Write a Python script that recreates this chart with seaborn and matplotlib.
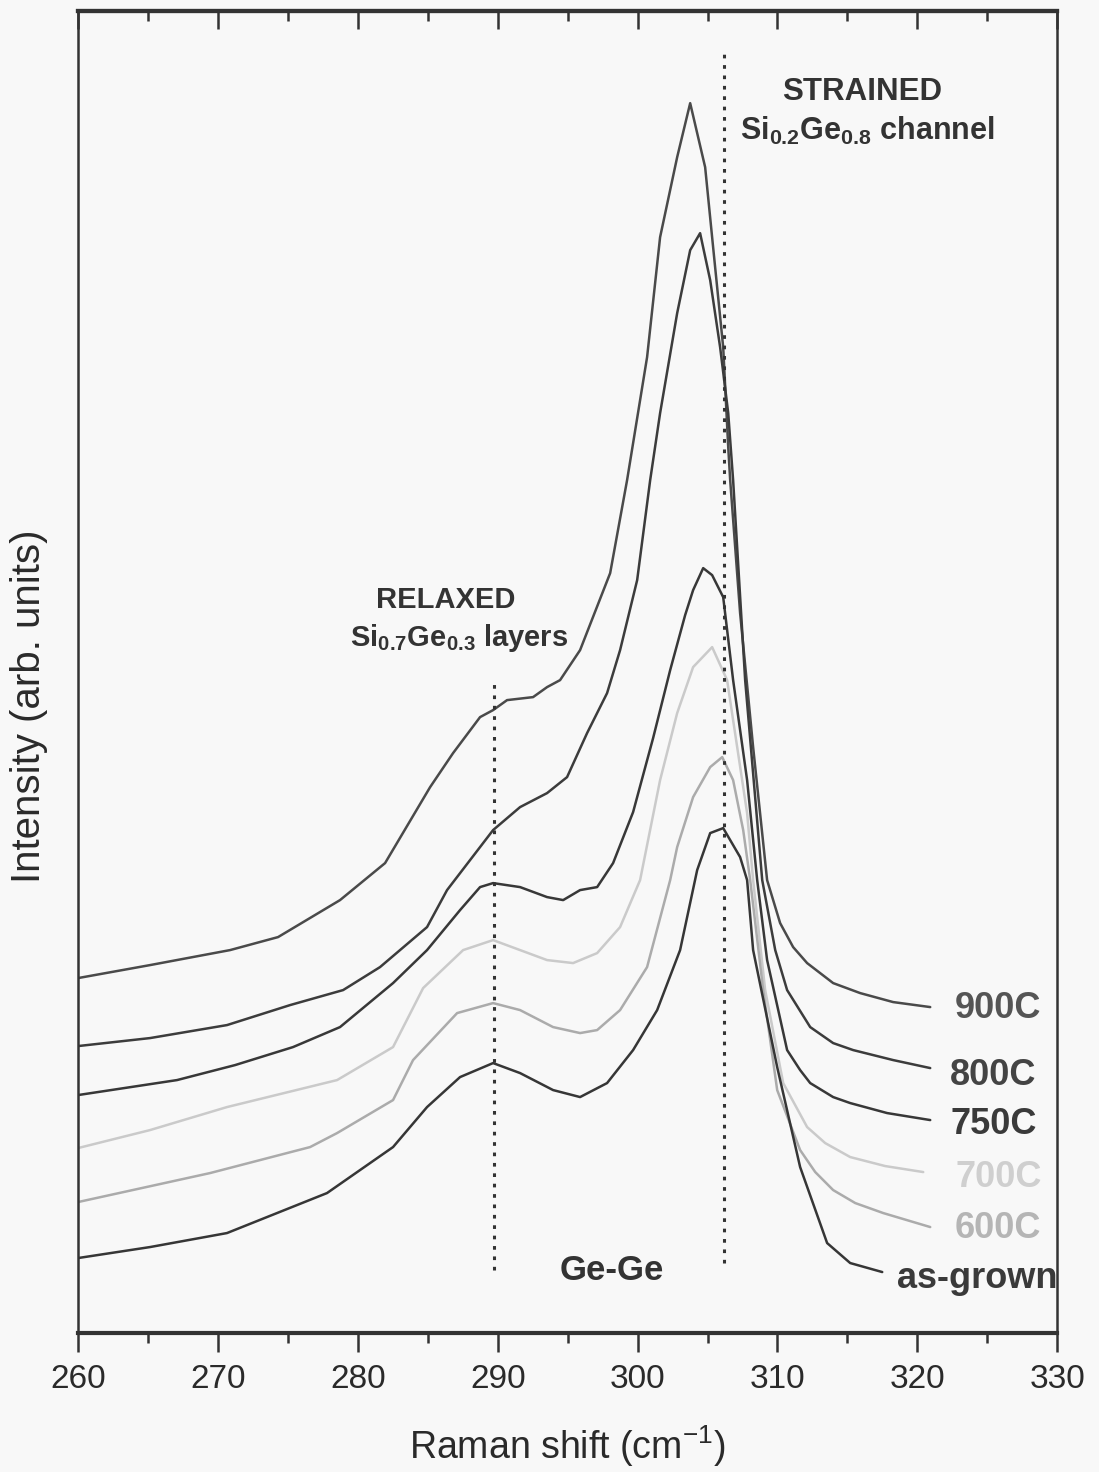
import numpy as np
import pandas as pd
import matplotlib
matplotlib.use("Agg")
import matplotlib.pyplot as plt
from matplotlib.ticker import MultipleLocator, NullLocator
import seaborn as sns

# Raman spectra (shift in cm^-1, intensity in arbitrary units, curves offset vertically)
shift_900 = [260.0, 265.15, 270.87, 274.30, 278.73, 281.95, 285.17, 286.81, 288.74, 289.67,
             290.67, 292.53, 293.53, 294.46, 295.89, 298.04, 299.25, 300.68, 301.61, 302.83,
             303.76, 304.83, 305.40, 306.12, 306.48, 306.62, 307.33, 308.26, 309.26, 310.19,
             311.12, 312.12, 313.98, 315.91, 318.27, 320.92]
int_900 = [35.5, 36.8, 38.3, 39.6, 43.3, 47.0, 54.6, 58.0, 61.6, 62.3,
           63.3, 63.6, 64.6, 65.3, 68.3, 76.0, 85.3, 97.6, 109.6, 117.6,
           123.0, 116.6, 108.6, 98.6, 88.6, 85.3, 72.0, 58.6, 45.3, 41.0,
           38.6, 37.0, 35.0, 34.0, 33.1, 32.6]

shift_800 = [260.0, 265.15, 270.65, 275.16, 278.95, 281.59, 284.95, 286.38, 289.67, 291.60,
             293.53, 294.96, 296.39, 297.82, 298.75, 299.97, 300.90, 301.61, 302.83, 303.76,
             304.47, 305.19, 305.90, 306.48, 306.83, 307.69, 308.91, 309.84, 310.69, 312.34,
             313.98, 315.41, 318.27, 320.92]
int_800 = [28.7, 29.5, 30.8, 32.8, 34.3, 36.6, 40.6, 44.3, 50.3, 52.6,
           54.0, 55.6, 60.0, 64.0, 68.3, 75.3, 85.3, 92.0, 102.0, 108.3,
           110.0, 105.3, 98.6, 92.0, 85.3, 65.3, 45.3, 38.3, 34.3, 30.6,
           29.0, 28.3, 27.3, 26.5]

shift_750 = [260.0, 267.08, 271.23, 275.37, 278.73, 282.52, 284.95, 287.31, 288.74, 289.67,
             291.60, 293.53, 294.68, 295.89, 297.11, 298.25, 299.68, 301.11, 302.33, 303.40,
             303.97, 304.69, 305.33, 306.12, 306.83, 307.83, 308.55, 309.26, 310.69, 311.62,
             312.34, 313.98, 315.20, 317.84, 320.92]
int_750 = [23.8, 25.3, 26.8, 28.6, 30.6, 35.0, 38.3, 42.3, 44.6, 45.0,
           44.6, 43.6, 43.3, 44.3, 44.6, 47.0, 52.1, 59.5, 66.3, 71.8,
           74.3, 76.5, 75.8, 73.6, 65.3, 55.3, 45.3, 37.3, 28.3, 26.3,
           25.0, 23.6, 23.0, 22.0, 21.3]

shift_700 = [260.0, 265.15, 270.65, 278.52, 282.52, 284.67, 287.53, 289.67, 291.60, 293.53,
             295.39, 297.11, 298.75, 300.18, 301.61, 302.83, 303.97, 305.33, 306.40, 307.12,
             307.83, 308.26, 309.12, 310.41, 312.12, 313.41, 315.20, 317.70, 320.42]
int_700 = [18.5, 20.3, 22.6, 25.3, 28.6, 34.5, 38.3, 39.3, 38.3, 37.3,
           37.0, 38.0, 40.6, 45.3, 55.3, 62.0, 66.6, 68.6, 65.3, 58.6,
           52.0, 45.3, 34.3, 25.0, 20.6, 19.0, 17.6, 16.7, 16.1]

shift_600 = [260.0, 269.44, 276.59, 278.52, 282.52, 283.95, 287.10, 289.67, 291.60, 293.96,
             295.89, 297.11, 298.75, 300.68, 302.33, 302.83, 303.97, 305.19, 306.05, 306.83,
             307.55, 308.05, 308.98, 309.98, 311.62, 312.70, 313.98, 315.56, 317.56, 320.92]
int_600 = [13.1, 16.0, 18.6, 20.0, 23.3, 27.3, 32.0, 33.0, 32.3, 30.6,
           30.0, 30.3, 32.3, 36.6, 45.3, 48.6, 53.6, 56.6, 57.6, 55.3,
           50.3, 45.3, 34.3, 24.3, 18.3, 16.1, 14.3, 13.0, 12.0, 10.6]

shift_asg = [260.0, 265.15, 270.65, 277.80, 282.52, 284.95, 287.31, 289.67, 291.60, 293.96,
             295.89, 297.82, 299.68, 301.40, 303.04, 304.26, 305.19, 306.12, 307.33, 307.83,
             308.26, 309.98, 311.62, 313.55, 315.20, 317.49]
int_asg = [7.5, 8.6, 10.0, 14.0, 18.6, 22.6, 25.6, 27.0, 26.0, 24.3,
           23.6, 25.0, 28.3, 32.3, 38.3, 46.3, 50.0, 50.5, 47.6, 45.3,
           38.3, 26.6, 16.6, 9.0, 7.0, 6.1]

samples = ["900C", "800C", "750C", "700C", "600C", "as-grown"]
shifts = [shift_900, shift_800, shift_750, shift_700, shift_600, shift_asg]
intensities = [int_900, int_800, int_750, int_700, int_600, int_asg]
line_colors = ["#4a4a4a", "#3c3c3c", "#383838", "#cacaca", "#ababab", "#363636"]
text_colors = ["#555555", "#444444", "#3a3a3a", "#cfcfcf", "#b5b5b5", "#3a3a3a"]
label_x = [322.7, 322.35, 322.35, 322.7, 322.7, 318.56]
label_y = [32.5, 25.8, 20.9, 15.6, 10.5, 5.5]

relaxed_mode = 289.75
strained_mode = 306.2

df = pd.concat(
    [pd.DataFrame({"shift": s, "intensity": i, "sample": n})
     for s, i, n in zip(shifts, intensities, samples)],
    ignore_index=True,
)

sns.set_theme(style="white")
plt.rcParams["font.family"] = ["Liberation Sans", "DejaVu Sans"]
plt.rcParams["mathtext.fontset"] = "custom"
plt.rcParams["mathtext.rm"] = "Liberation Sans"
plt.rcParams["mathtext.bf"] = "Liberation Sans:bold"
plt.rcParams["mathtext.it"] = "Liberation Sans:italic"

fig = plt.figure(figsize=(10.99, 14.72), dpi=100, facecolor="#f8f8f8")
ax = fig.add_axes([0.071, 0.0944, 0.891, 0.898])
ax.set_facecolor("#f8f8f8")

sns.lineplot(data=df, x="shift", y="intensity", hue="sample", hue_order=samples,
             palette=dict(zip(samples, line_colors)), sort=False, estimator=None,
             linewidth=1.8, legend=False, ax=ax)

ax.set_xlim(260, 330)
ax.set_ylim(0, 132.2)

# mode positions
ax.plot([relaxed_mode, relaxed_mode], [6.3, 65.1], color="#333333", lw=2.2,
        linestyle=(0, (1.2, 2.2)))
ax.plot([strained_mode, strained_mode], [7.0, 128.3], color="#333333", lw=2.2,
        linestyle=(0, (1.2, 2.2)))

for name, lx, ly, tc in zip(samples, label_x, label_y, text_colors):
    ax.text(lx, ly, name, color=tc, fontsize=26, fontweight="bold",
            ha="left", va="center")

ax.text(316.06, 124.1, "STRAINED", fontsize=22.5, fontweight="bold", color="#333333",
        ha="center", va="center")
ax.text(307.33, 120.2, r"$\mathbf{Si_{0.2}Ge_{0.8}}$ channel", fontsize=22,
        fontweight="bold", color="#333333", ha="left", va="center")
ax.text(286.3, 73.3, "RELAXED", fontsize=21, fontweight="bold", color="#333333",
        ha="center", va="center")
ax.text(279.45, 69.5, r"$\mathbf{Si_{0.7}Ge_{0.3}}$ layers", fontsize=21,
        fontweight="bold", color="#333333", ha="left", va="center")
ax.text(298.18, 6.3, "Ge-Ge", fontsize=25, fontweight="bold", color="#333333",
        ha="center", va="center")

ax.set_xlabel(r"Raman shift (cm$^{-1}$)", fontsize=27, color="#2a2a2a", labelpad=21)
ax.set_ylabel("Intensity (arb. units)", fontsize=29, color="#2a2a2a")
ax.yaxis.set_label_coords(-0.031, 0.474)

ax.xaxis.set_major_locator(MultipleLocator(10))
ax.xaxis.set_minor_locator(MultipleLocator(5))
ax.yaxis.set_major_locator(NullLocator())
ax.tick_params(axis="x", which="major", direction="out", length=14, width=1.8,
               labelsize=24, labelcolor="#2a2a2a", color="#333333", bottom=True, pad=8)
ax.tick_params(axis="x", which="minor", direction="out", length=7, width=1.8,
               color="#333333", bottom=True)

top = ax.secondary_xaxis("top")
top.xaxis.set_major_locator(MultipleLocator(10))
top.xaxis.set_minor_locator(MultipleLocator(5))
top.tick_params(axis="x", which="major", direction="in", length=13, width=1.8,
                labeltop=False, color="#333333")
top.tick_params(axis="x", which="minor", direction="in", length=7, width=1.8,
                color="#333333")
top.spines["top"].set_linewidth(3.0)
top.spines["top"].set_color("#333333")

for side in ["left", "right"]:
    ax.spines[side].set_linewidth(1.8)
    ax.spines[side].set_color("#333333")
for side in ["top", "bottom"]:
    ax.spines[side].set_linewidth(3.0)
    ax.spines[side].set_color("#333333")

fig.savefig("out.png", dpi=100, facecolor=fig.get_facecolor())
